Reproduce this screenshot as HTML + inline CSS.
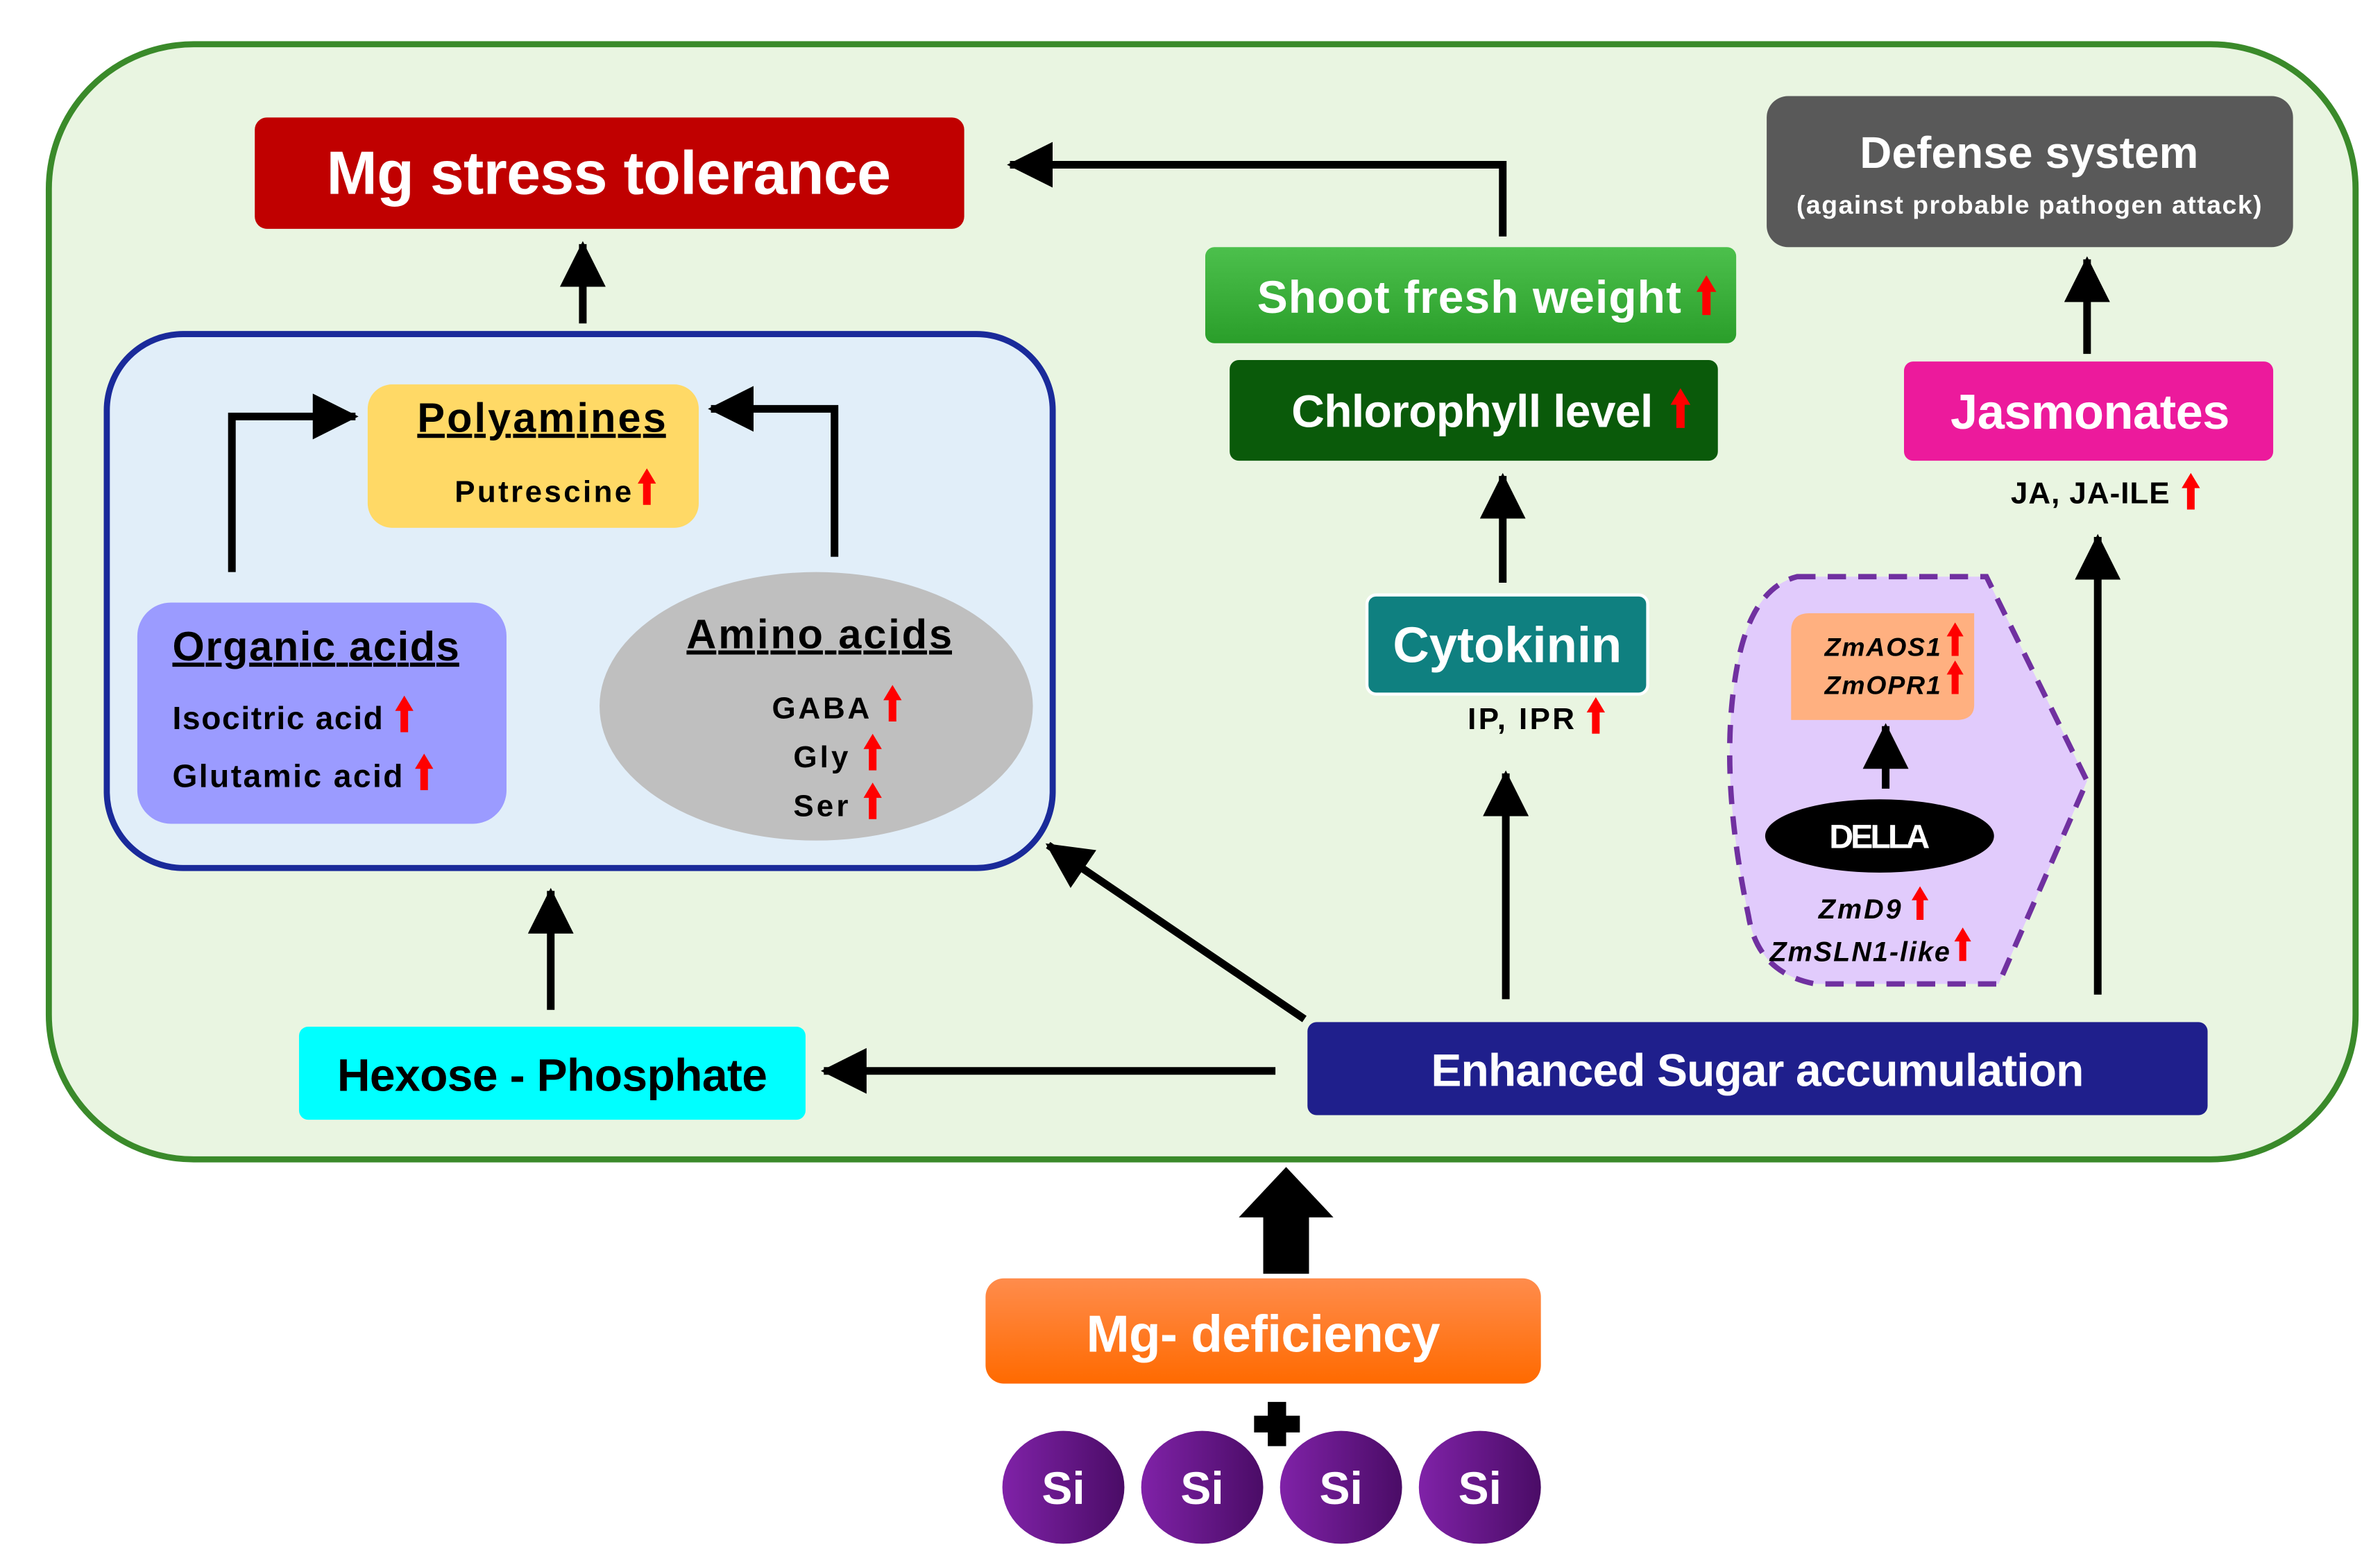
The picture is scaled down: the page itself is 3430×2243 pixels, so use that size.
<!DOCTYPE html>
<html><head><meta charset="utf-8"><style>html,body{margin:0;padding:0;background:#fff}svg{display:block}text{font-family:"Liberation Sans",sans-serif;font-weight:bold}</style></head><body>
<svg width="3430" height="2243" viewBox="0 0 1560 1020" preserveAspectRatio="none" xmlns="http://www.w3.org/2000/svg">
<defs>
<marker id="ah" markerUnits="userSpaceOnUse" markerWidth="34" markerHeight="30" refX="28" refY="15" orient="auto"><path d="M0,0 L30,15 L0,30 Z" fill="#000"/></marker>
<symbol id="up" viewBox="0 0 12 24"><path d="M6,0 L12,10 L8.5,10 L8.5,24 L3.5,24 L3.5,10 L0,10 Z" fill="#f00"/></symbol>
<linearGradient id="og" x1="0" y1="0" x2="0" y2="1"><stop offset="0" stop-color="#ff8c4c"/><stop offset="1" stop-color="#ff6a00"/></linearGradient>
<linearGradient id="gg" x1="0" y1="0" x2="0" y2="1"><stop offset="0" stop-color="#4cc04c"/><stop offset="1" stop-color="#2a9e2a"/></linearGradient>
<linearGradient id="sg" x1="0" y1="0" x2="1" y2="0"><stop offset="0" stop-color="#8022a8"/><stop offset="1" stop-color="#4a0c66"/></linearGradient>
</defs>
<rect x="32" y="29" width="1512" height="731" rx="95" fill="#e9f5e1" stroke="#3a8a2a" stroke-width="4"/>
<!-- Mg stress -->
<rect x="167" y="77" width="465" height="73" rx="8" fill="#c00000"/>
<text x="399" y="127" font-size="40" fill="#fff" text-anchor="middle" textLength="370">Mg stress tolerance</text>
<path d="M985,155 L985,108 L662,108" fill="none" stroke="#000" stroke-width="5" marker-end="url(#ah)"/>
<!-- Defense -->
<rect x="1158" y="63" width="345" height="99" rx="14" fill="#595959"/>
<text x="1330" y="110" font-size="29" fill="#fff" text-anchor="middle" textLength="222">Defense system</text>
<text x="1330" y="140" font-size="17" fill="#fff" text-anchor="middle" textLength="305">(against probable pathogen attack)</text>
<!-- shoot -->
<rect x="790" y="162" width="348" height="63" rx="6" fill="url(#gg)"/>
<text x="963" y="205" font-size="30" fill="#fff" text-anchor="middle" textLength="278">Shoot fresh weight</text>
<use href="#up" x="1112" y="180" width="13" height="27"/>
<rect x="806" y="236" width="320" height="66" rx="6" fill="#0a5a0a"/>
<text x="965" y="280" font-size="30" fill="#fff" text-anchor="middle" textLength="237">Chlorophyll level</text>
<use href="#up" x="1095" y="254" width="13" height="27"/>
<!-- Jasmonates -->
<rect x="1248" y="237" width="242" height="65" rx="6" fill="#ec1a9c"/>
<text x="1370" y="281" font-size="32" fill="#fff" text-anchor="middle" textLength="183">Jasmonates</text>
<text x="1318" y="330" font-size="20" fill="#000" textLength="104">JA, JA-ILE</text>
<use href="#up" x="1430" y="310" width="12" height="24"/>
<path d="M1368,232 L1368,170" stroke="#000" stroke-width="5" marker-end="url(#ah)"/>
<!-- container -->
<rect x="70" y="219" width="620" height="350" rx="50" fill="#e1eef9" stroke="#1a2a9a" stroke-width="4"/>
<path d="M382,212 L382,160" stroke="#000" stroke-width="5" marker-end="url(#ah)"/>
<rect x="241" y="252" width="217" height="94" rx="16" fill="#ffd966"/>
<text x="355" y="283" font-size="27" fill="#000" text-anchor="middle" text-decoration="underline" textLength="163">Polyamines</text>
<text x="298" y="329" font-size="20" fill="#000" textLength="116">Putrescine</text>
<use href="#up" x="418" y="307" width="12" height="24"/>
<path d="M152,375 L152,273 L233,273" fill="none" stroke="#000" stroke-width="5" marker-end="url(#ah)"/>
<path d="M547,365 L547,268 L466,268" fill="none" stroke="#000" stroke-width="5" marker-end="url(#ah)"/>
<rect x="90" y="395" width="242" height="145" rx="22" fill="#9b9bff"/>
<text x="207" y="433" font-size="27" fill="#000" text-anchor="middle" text-decoration="underline" textLength="188">Organic acids</text>
<text x="113" y="478" font-size="21" fill="#000" textLength="138">Isocitric acid</text>
<use href="#up" x="259" y="456" width="12" height="24"/>
<text x="113" y="516" font-size="21" fill="#000" textLength="151">Glutamic acid</text>
<use href="#up" x="272" y="494" width="12" height="24"/>
<ellipse cx="535" cy="463" rx="142" ry="88" fill="#bfbfbf"/>
<text x="537" y="425" font-size="27" fill="#000" text-anchor="middle" text-decoration="underline" textLength="174">Amino acids</text>
<text x="506" y="471" font-size="20" fill="#000" textLength="64">GABA</text>
<use href="#up" x="579" y="449" width="12" height="24"/>
<text x="520" y="503" font-size="20" fill="#000" textLength="36">Gly</text>
<use href="#up" x="566" y="481" width="12" height="24"/>
<text x="520" y="535" font-size="20" fill="#000" textLength="36">Ser</text>
<use href="#up" x="566" y="513" width="12" height="24"/>
<!-- cytokinin -->
<path d="M985,382 L985,312" stroke="#000" stroke-width="5" marker-end="url(#ah)"/>
<rect x="896" y="390" width="184" height="65" rx="6" fill="#0f8080" stroke="#fff" stroke-width="2"/>
<text x="988" y="434" font-size="33" fill="#fff" text-anchor="middle" textLength="150">Cytokinin</text>
<text x="962" y="478" font-size="20" fill="#000" textLength="70">IP, IPR</text>
<use href="#up" x="1040" y="457" width="12" height="24"/>
<path d="M987,655 L987,507" stroke="#000" stroke-width="5" marker-end="url(#ah)"/>
<!-- DELLA region -->
<path d="M1178,378 L1302,378 L1368,512 L1310,645 L1190,645 Q1152,638 1146,600 Q1125,500 1140,430 Q1150,385 1178,378 Z" fill="#e1cbfc" stroke="#7030a0" stroke-width="3.5" stroke-dasharray="12,8"/>
<path d="M1174,402 L1282,402 L1294,402 L1294,462 Q1294,472 1282,472 L1174,472 L1174,414 Q1174,402 1186,402 Z" fill="#ffb080"/>
<text x="1196" y="430" font-size="17" fill="#000" font-style="italic" textLength="76">ZmAOS1</text>
<use href="#up" x="1276" y="408" width="11" height="22"/>
<text x="1196" y="455" font-size="17" fill="#000" font-style="italic" textLength="76">ZmOPR1</text>
<use href="#up" x="1276" y="433" width="11" height="22"/>
<path d="M1236,517 L1236,476" stroke="#000" stroke-width="5" marker-end="url(#ah)"/>
<ellipse cx="1232" cy="548" rx="75" ry="24" fill="#000"/>
<text x="1232" y="556" font-size="22" fill="#fff" text-anchor="middle" textLength="66">DELLA</text>
<text x="1192" y="602" font-size="18" fill="#000" font-style="italic" textLength="54">ZmD9</text>
<use href="#up" x="1253" y="581" width="11" height="22"/>
<text x="1160" y="630" font-size="18" fill="#000" font-style="italic" textLength="118">ZmSLN1-like</text>
<use href="#up" x="1281" y="608" width="11" height="22"/>
<path d="M1375,652 L1375,352" stroke="#000" stroke-width="5" marker-end="url(#ah)"/>
<!-- bottom row -->
<rect x="196" y="673" width="332" height="61" rx="6" fill="#00ffff"/>
<text x="362" y="715" font-size="30" fill="#000" text-anchor="middle" textLength="282">Hexose - Phosphate</text>
<path d="M361,662 L361,584" stroke="#000" stroke-width="5" marker-end="url(#ah)"/>
<rect x="857" y="670" width="590" height="61" rx="6" fill="#1f1f8c"/>
<text x="1152" y="712" font-size="30" fill="#fff" text-anchor="middle" textLength="428">Enhanced Sugar accumulation</text>
<path d="M836,702 L540,702" stroke="#000" stroke-width="5" marker-end="url(#ah)"/>
<path d="M855,668 L687,554" stroke="#000" stroke-width="5" marker-end="url(#ah)"/>
<!-- block arrow -->
<path d="M828,835 L828,798 L812,798 L843,765 L874,798 L858,798 L858,835 Z" fill="#000"/>
<rect x="646" y="838" width="364" height="69" rx="12" fill="url(#og)"/>
<text x="828" y="886" font-size="34" fill="#fff" text-anchor="middle" textLength="232">Mg- deficiency</text>
<path d="M831,919 L843,919 L843,928 L852,928 L852,939 L843,939 L843,948 L831,948 L831,939 L822,939 L822,928 L831,928 Z" fill="#000"/>
<g font-size="30" fill="#fff" text-anchor="middle">
<ellipse cx="697" cy="975" rx="40" ry="37" fill="url(#sg)"/><text x="697" y="986" fill="#fff">Si</text>
<ellipse cx="788" cy="975" rx="40" ry="37" fill="url(#sg)"/><text x="788" y="986" fill="#fff">Si</text>
<ellipse cx="879" cy="975" rx="40" ry="37" fill="url(#sg)"/><text x="879" y="986" fill="#fff">Si</text>
<ellipse cx="970" cy="975" rx="40" ry="37" fill="url(#sg)"/><text x="970" y="986" fill="#fff">Si</text>
</g>
</svg>
</body></html>
